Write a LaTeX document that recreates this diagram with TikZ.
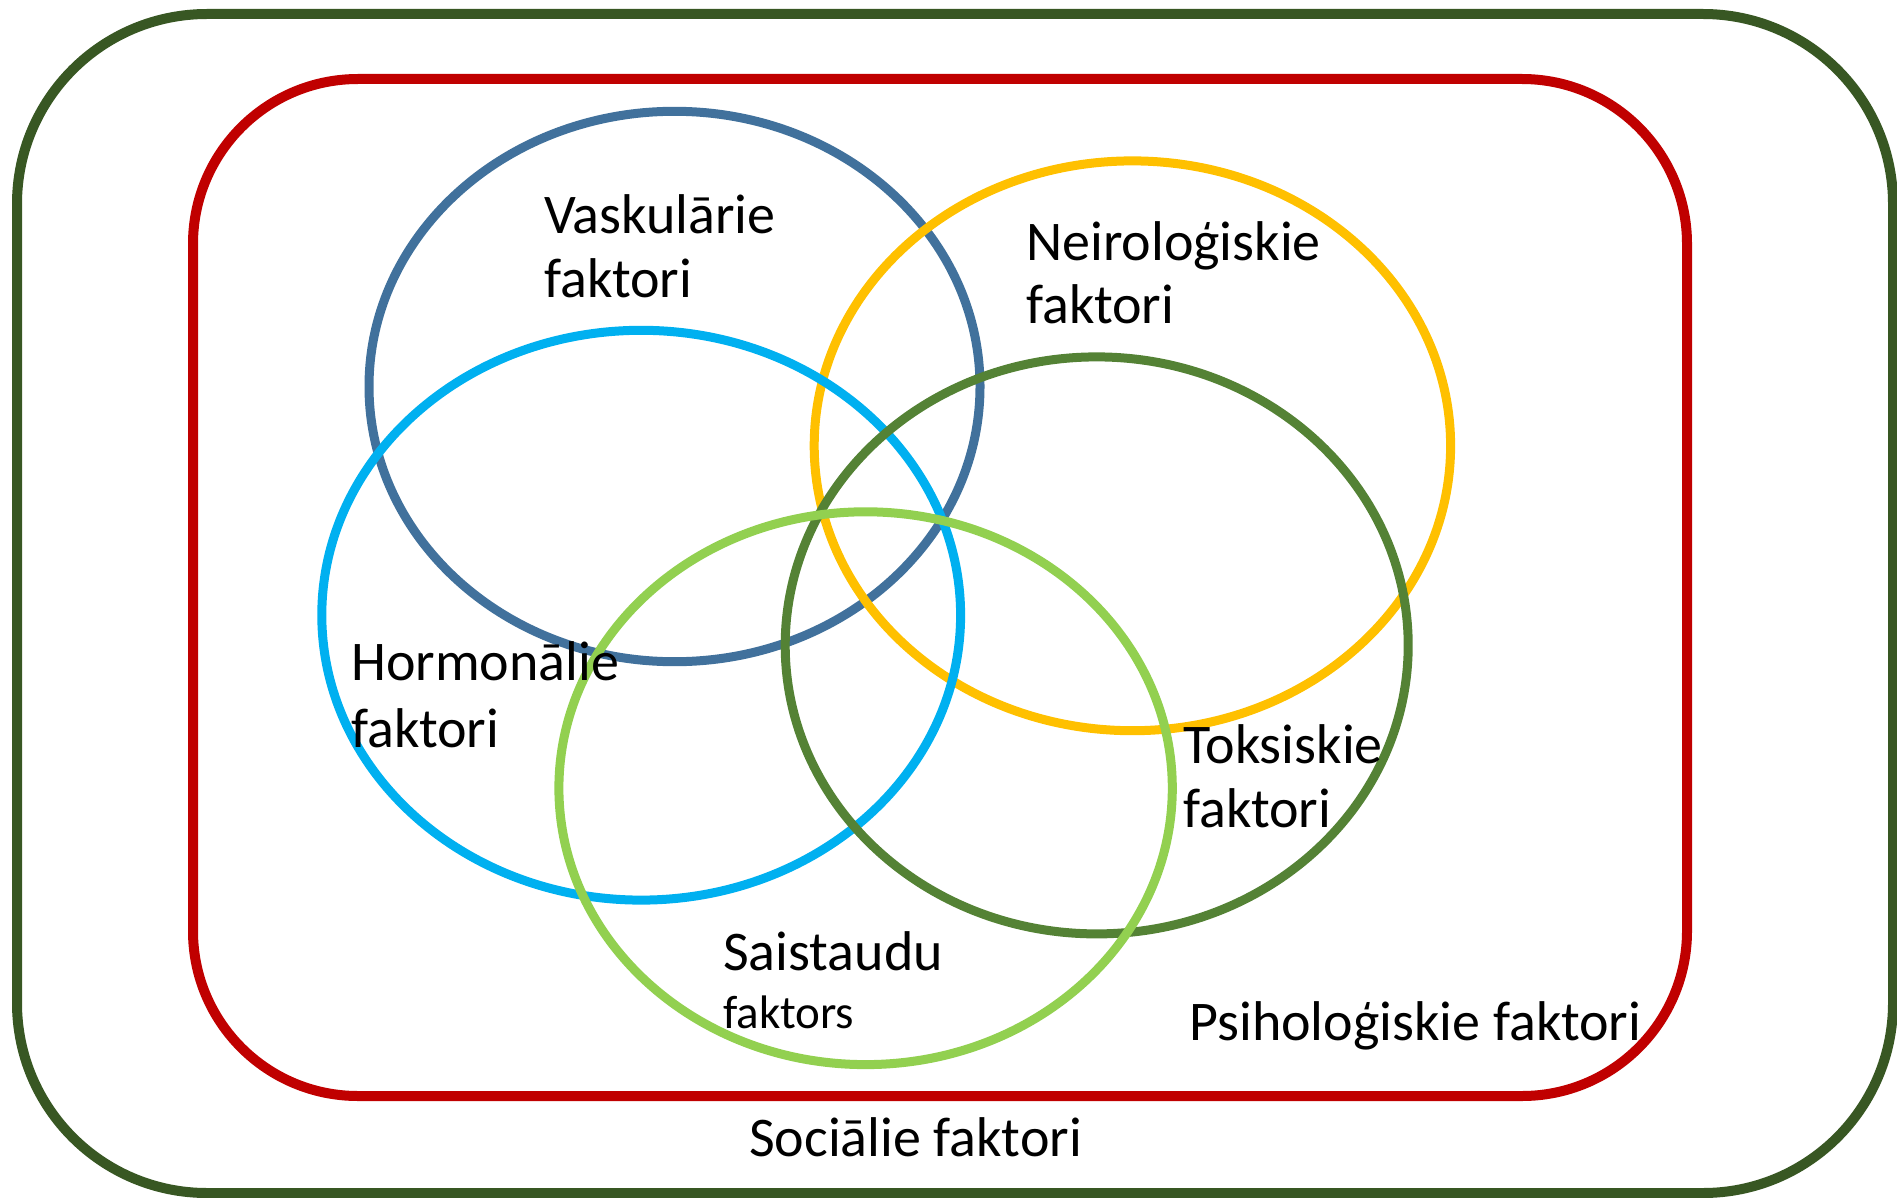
\documentclass[tikz,border=0pt]{standalone}
\usepackage{fontspec}
\setmainfont{Carlito}
\definecolor{outergreen}{HTML}{385723}
\definecolor{boxred}{HTML}{C00000}
\definecolor{vaskblue}{HTML}{41719C}
\definecolor{neiroyellow}{HTML}{FFC000}
\definecolor{hormonblue}{HTML}{00B0F0}
\definecolor{toksgreen}{HTML}{548235}
\definecolor{saistgreen}{HTML}{92D050}
\begin{document}
\begin{tikzpicture}[x=1pt,y=-1pt,
    ring/.style={line width=9pt},
    frame/.style={line width=10pt},
    lbl/.style={inner sep=0pt,anchor=base west,font=\fontsize{56}{66}\selectfont},
    lblsmall/.style={inner sep=0pt,anchor=base west,font=\fontsize{47}{56}\selectfont}]
  \useasboundingbox (0,0) rectangle (1897,1198);
  % frames
  \draw[frame,outergreen,rounded corners=190pt] (17,14) rectangle (1893,1193);
  \draw[frame,boxred,rounded corners=165pt] (193,79) rectangle (1687,1096);
  % rings
  \draw[ring,vaskblue] (674.5,386.5) ellipse (305.5 and 275.2);
  \draw[ring,neiroyellow] (1132.4,445.8) ellipse (318.2 and 284.9);
  \draw[ring,hormonblue] (641.2,615.2) ellipse (319.4 and 284.9);
  \draw[ring,toksgreen] (1096.7,645.4) ellipse (311.5 and 288.5);
  \draw[ring,saistgreen] (865.6,788.2) ellipse (306.7 and 276.4);
  % labels
  \node[lbl] (vask1) at (544,234) {Vaskulārie};
  \node[lbl] (vask2) at (544,298) {faktori};
  \node[lbl] (neiro1) at (1026,261) {Neiroloģiskie};
  \node[lbl] (neiro2) at (1026,323) {faktori};
  \node[lbl] (hormon1) at (351,680) {Hormonālie};
  \node[lbl] (hormon2) at (351,747) {faktori};
  \node[lbl] (toks1) at (1183,763) {Toksiskie};
  \node[lbl] (toks2) at (1183,827) {faktori};
  \node[lbl] (saist1) at (723,970) {Saistaudu};
  \node[lblsmall] (saist2) at (723,1028) {faktors};
  \node[lbl] (psih) at (1189,1040) {Psiholoģiskie faktori};
  \node[lbl] (soc) at (749,1156) {Sociālie faktori};
\end{tikzpicture}
\end{document}
